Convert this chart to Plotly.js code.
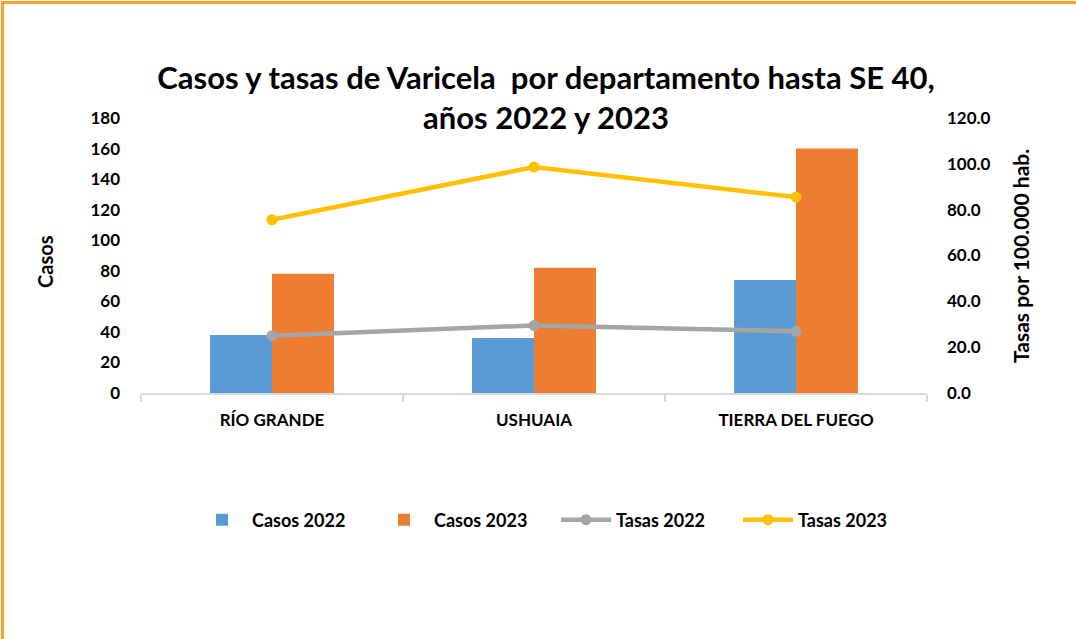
<!DOCTYPE html>
<html>
<head>
<meta charset="utf-8">
<script src="https://cdn.plot.ly/plotly-3.0.1.min.js"></script>
<style>
  html, body { margin: 0; padding: 0; background: #fff; }
  #wrap { position: relative; width: 1076px; height: 639px; }
  #frame { position: absolute; left: 1px; top: 1px; width: 1080px; height: 700px;
           border-top: 3px solid #f7a12c; border-left: 3px solid #f7a12c; pointer-events: none; z-index: 5; }
  #chart { width: 1076px; height: 639px; }
</style>
</head>
<body>
<div id="wrap">
  <div id="frame"></div>
  <div id="chart"></div>
</div>
<script>
const categories = ["RÍO GRANDE", "USHUAIA", "TIERRA DEL FUEGO"];
const casos2022 = [38, 36, 74];
const casos2023 = [78, 82, 160];
const tasas2022 = [25.0, 29.5, 26.9];
const tasas2023 = [75.6, 98.6, 85.5];

const FONT = "Lato, 'DejaVu Sans', sans-serif";

const traces = [
  { type: "bar", name: "Casos 2022", x: categories, y: casos2022,
    marker: { color: "#5b9bd5" }, yaxis: "y" },
  { type: "bar", name: "Casos 2023", x: categories, y: casos2023,
    marker: { color: "#ed7d31" }, yaxis: "y" },
  { type: "scatter", mode: "lines+markers", name: "Tasas 2022", x: categories, y: tasas2022,
    line: { color: "#a5a5a5", width: 4.5 }, marker: { color: "#a5a5a5", size: 11 }, yaxis: "y2" },
  { type: "scatter", mode: "lines+markers", name: "Tasas 2023", x: categories, y: tasas2023,
    line: { color: "#ffc000", width: 4.5 }, marker: { color: "#ffc000", size: 11 }, yaxis: "y2" }
];

const layout = {
  width: 1076, height: 639,
  margin: { l: 141, r: 149, t: 118, b: 246 },
  paper_bgcolor: "#ffffff", plot_bgcolor: "#ffffff",
  font: { family: FONT, color: "#000", size: 17, weight: "bold" },
  title: {
    text: "Casos y tasas de Varicela  por departamento hasta SE 40,<br>años 2022 y 2023",
    font: { family: FONT, size: 31, weight: "bold", color: "#000" },
    x: 546 / 1076, xref: "container", xanchor: "center",
    y: 1 - 89 / 639, yref: "container", yanchor: "middle"
  },
  barmode: "group", bargap: 0.527, bargroupgap: 0,
  xaxis: {
    type: "category",
    showline: true, linecolor: "#d9d9d9", linewidth: 1.5,
    ticks: "outside", tickson: "boundaries", ticklen: 7, tickcolor: "#d9d9d9", tickwidth: 1.5,
    ticklabelstandoff: 11,
    tickfont: { family: FONT, size: 17, weight: "bold", color: "#000" },
    showgrid: false, zeroline: false, fixedrange: true
  },
  yaxis: {
    range: [0, 180], dtick: 20, tick0: 0,
    showgrid: false, zeroline: false, showline: false,
    ticks: "", ticklabelstandoff: 20,
    tickfont: { family: FONT, size: 17, weight: "bold", color: "#000" }
  },
  yaxis2: {
    overlaying: "y", side: "right",
    range: [0, 120], dtick: 20, tick0: 0, tickformat: ".1f",
    showgrid: false, zeroline: false, showline: false,
    ticks: "", ticklabelstandoff: 19,
    tickfont: { family: FONT, size: 17, weight: "bold", color: "#000" }
  },
  legend: {
    orientation: "h", x: 556 / 1076, xref: "container", xanchor: "center",
    y: 1 - 520 / 639, yref: "container", yanchor: "middle",
    font: { family: FONT, size: 18, weight: "bold", color: "#000" },
    itemwidth: 50, traceorder: "normal", entrywidth: 117
  },
  annotations: [
    { text: "Casos", xref: "paper", yref: "paper", x: (45 - 141) / 786, y: (393 - 262) / 275,
      xanchor: "center", yanchor: "middle", textangle: -90, showarrow: false,
      font: { family: FONT, size: 20, weight: "bold", color: "#000" } },
    { text: "Tasas por 100.000 hab.", xref: "paper", yref: "paper", x: (1020 - 141) / 786, y: (393 - 256) / 275,
      xanchor: "center", yanchor: "middle", textangle: -90, showarrow: false,
      font: { family: FONT, size: 21, weight: "bold", color: "#000" } }
  ],
  showlegend: true
};

Plotly.newPlot("chart", traces, layout, { displayModeBar: false, staticPlot: true });
</script>
</body>
</html>
